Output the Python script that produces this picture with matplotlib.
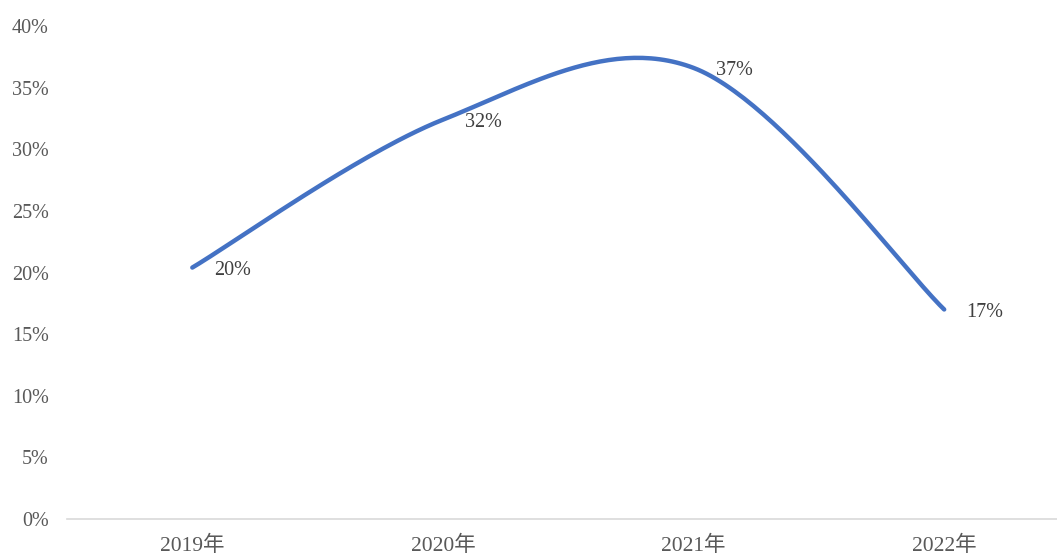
import numpy as np
import matplotlib
matplotlib.use("Agg")
import matplotlib.pyplot as plt

# Data
years = ["2019年", "2020年", "2021年", "2022年"]
rates = [20.4, 32.4, 36.6, 17.0]
labels = ["20%", "32%", "37%", "17%"]
yticks = [0, 5, 10, 15, 20, 25, 30, 35, 40]

fonts = ["Liberation Serif", "Noto Sans CJK SC", "DejaVu Sans"]
grey = "#595959"


def smooth(xs, ys, n=60):
    # Excel-like smoothed line: cubic Bezier with Catmull-Rom control points
    pts = np.column_stack([xs, ys]).astype(float)
    ext = np.vstack([pts[0], pts, pts[-1]])
    out = []
    for i in range(len(pts) - 1):
        p0, p1, p2, p3 = ext[i], ext[i + 1], ext[i + 2], ext[i + 3]
        c1 = p1 + (p2 - p0) / 6
        c2 = p2 - (p3 - p1) / 6
        t = np.linspace(0, 1, n)[:, None]
        seg = ((1 - t) ** 3) * p1 + 3 * ((1 - t) ** 2) * t * c1 \
            + 3 * (1 - t) * t ** 2 * c2 + t ** 3 * p2
        out.append(seg if i == 0 else seg[1:])
    return np.vstack(out)


W, H = 1057, 559
fig = plt.figure(figsize=(W / 100, H / 100), dpi=100)
ax = fig.add_axes([67 / W, (H - 519) / H, (1069.5 - 67) / W, (519 - 26) / H])

x = np.arange(len(years))
curve = smooth(x, rates)
ax.plot(curve[:, 0], curve[:, 1], color="#4472C4", lw=3.2,
        solid_capstyle="round", zorder=3)

for xi, yi, lab in zip(x, rates, labels):
    ax.annotate(lab, (xi, yi), xytext=(16, -2), textcoords="offset points",
                ha="left", va="center", fontsize=14.5, color="#404040",
                family=fonts, zorder=4)

ax.set_xlim(-0.5, len(years) - 0.5)
ax.set_ylim(0, 40)
ax.set_xticks(x)
ax.set_xticklabels(years, family=fonts, fontsize=15.5, color=grey)
ax.set_yticks(yticks)
ax.set_yticklabels([f"{v}%" for v in yticks], family=fonts, fontsize=14.5, color=grey)
ax.tick_params(axis="both", length=0)
ax.tick_params(axis="y", pad=13)
ax.tick_params(axis="x", pad=12)

for side in ["top", "right", "left"]:
    ax.spines[side].set_visible(False)
ax.spines["bottom"].set_color("#D9D9D9")
ax.spines["bottom"].set_linewidth(1.2)
ax.patch.set_alpha(0)

fig.savefig("out.png", dpi=100)
